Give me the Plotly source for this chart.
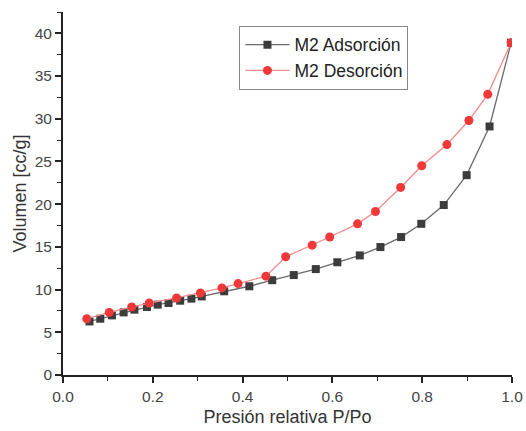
import plotly.graph_objects as go

ads_x = [0.059, 0.083, 0.109, 0.135, 0.159, 0.187, 0.211, 0.235, 0.261, 0.286, 0.309, 0.359,
         0.415, 0.466, 0.514, 0.563, 0.611, 0.661, 0.707, 0.753, 0.798, 0.848, 0.899, 0.950, 0.998]
ads_y = [6.27, 6.59, 6.98, 7.33, 7.65, 7.96, 8.24, 8.43, 8.70, 8.94, 9.20, 9.80,
         10.39, 11.10, 11.70, 12.40, 13.20, 14.00, 14.98, 16.15, 17.70, 19.90, 23.40, 29.10, 38.90]

des_x = [0.053, 0.103, 0.153, 0.192, 0.253, 0.306, 0.354, 0.390, 0.452, 0.496, 0.555, 0.594,
         0.656, 0.696, 0.752, 0.799, 0.855, 0.904, 0.946, 0.998]
des_y = [6.59, 7.33, 7.96, 8.43, 9.02, 9.60, 10.20, 10.70, 11.57, 13.84, 15.20, 16.16,
         17.70, 19.14, 21.96, 24.50, 26.98, 29.80, 32.86, 38.90]

fig = go.Figure()
fig.add_trace(go.Scatter(x=ads_x, y=ads_y, mode="lines+markers", name="M2 Adsorción",
                         line=dict(color="#6a6a6a", width=1.3),
                         marker=dict(symbol="square", size=8, color="#3c3c3c")))
fig.add_trace(go.Scatter(x=des_x, y=des_y, mode="lines+markers", name="M2 Desorción",
                         line=dict(color="#f28c8c", width=1.3),
                         marker=dict(symbol="circle", size=9, color="#f03838")))

font = "Liberation Sans, Arial, sans-serif"
fig.update_layout(
    width=526, height=431,
    margin=dict(l=63, r=14, t=12, b=56, autoexpand=False),
    paper_bgcolor="white", plot_bgcolor="white",
    font=dict(family=font, color="#333333"),
    legend=dict(x=0.393, y=0.962, xanchor="left", yanchor="top",
                bordercolor="#888888", borderwidth=1, bgcolor="white",
                font=dict(size=17.5, color="#222222"), tracegroupgap=0, itemwidth=44),
    showlegend=True,
)
fig.update_xaxes(range=[0, 1.0], tickvals=[0, 0.2, 0.4, 0.6, 0.8, 1.0],
                 ticktext=["0.0", "0.2", "0.4", "0.6", "0.8", "1.0"],
                 ticks="outside", ticklen=6, tickwidth=1.5, tickcolor="#222",
                 minor=dict(dtick=0.1, ticks="outside", ticklen=4, tickcolor="#222", tickwidth=1.2, showgrid=False),
                 showline=True, linecolor="#222", linewidth=1.8, showgrid=False, zeroline=False,
                 tickfont=dict(size=15.5, color="#444"), automargin=False,
                 title=dict(text="Presión relativa P/Po", font=dict(size=18, color="#333"), standoff=7))
fig.update_yaxes(range=[0, 42.5], tickvals=[0, 5, 10, 15, 20, 25, 30, 35, 40],
                 ticks="outside", ticklen=6, tickwidth=1.5, tickcolor="#222",
                 minor=dict(dtick=2.5, ticks="outside", ticklen=4, tickcolor="#222", tickwidth=1.2, showgrid=False),
                 showline=True, linecolor="#222", linewidth=1.8, showgrid=False, zeroline=False,
                 tickfont=dict(size=15.5, color="#444"), automargin=False,
                 title=dict(text="Volumen [cc/g]", font=dict(size=18, color="#333"), standoff=3))

fig.write_html("out.html", config={"displayModeBar": False},
               post_script="document.body.style.margin='0px';document.body.style.overflow='hidden';")
